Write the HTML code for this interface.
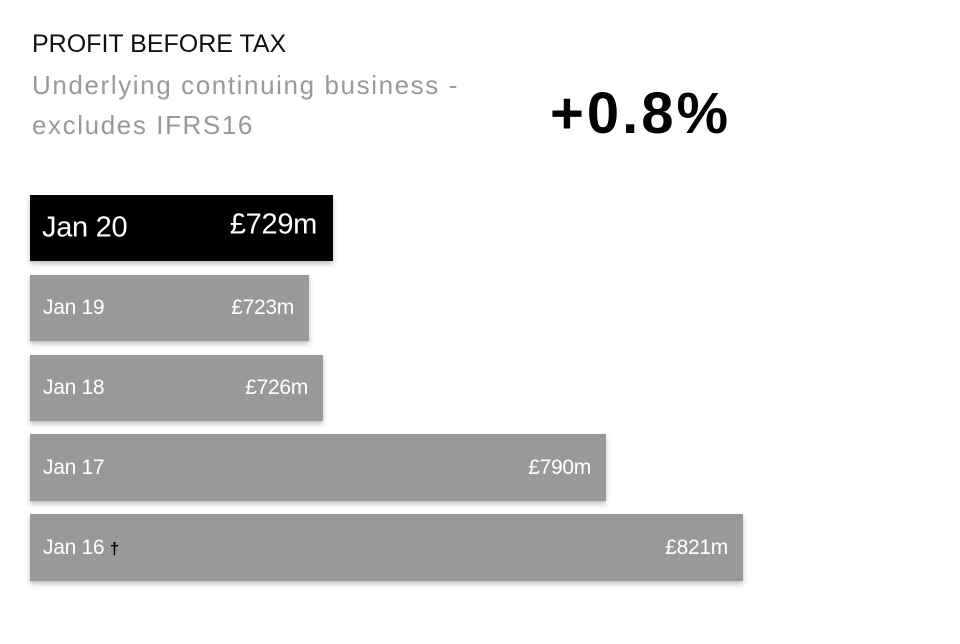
<!DOCTYPE html>
<html><head><meta charset="utf-8"><style>
body{margin:0;width:960px;height:644px;background:#fff;font-family:"Liberation Sans",sans-serif;position:relative;overflow:hidden}
.t{position:absolute;white-space:nowrap}
.bar{position:absolute;left:30px;background:#999;box-shadow:0 3px 5px rgba(0,0,0,0.25);color:#fff}
.bar span{position:absolute;top:50%;transform:translateY(-50%);font-size:21px;letter-spacing:-0.3px}
</style></head><body>
<div class="t" style="left:32px;top:30px;font-size:25px;color:#111;letter-spacing:0px">PROFIT BEFORE TAX</div>
<div class="t" style="left:32px;top:70px;font-size:26px;color:#999;letter-spacing:1.6px">Underlying continuing business -</div>
<div class="t" style="left:32px;top:110px;font-size:26px;color:#999;letter-spacing:1.6px">excludes IFRS16</div>
<div class="t" style="left:550px;top:80px;font-size:58px;font-weight:bold;color:#000;letter-spacing:3px">+0.8%</div>
<div class="bar" style="top:195px;width:303px;height:66px;background:#000"><span style="left:12px;font-size:29px">Jan 20</span><span style="right:16px;font-size:29px;margin-top:-3px">£729m</span></div>
<div class="bar" style="top:275px;width:279px;height:66px"><span style="left:13px">Jan 19</span><span style="right:15px">£723m</span></div>
<div class="bar" style="top:355px;width:293px;height:66px"><span style="left:13px">Jan 18</span><span style="right:15px">£726m</span></div>
<div class="bar" style="top:434px;width:576px;height:67px"><span style="left:13px">Jan 17</span><span style="right:15px">£790m</span></div>
<div class="bar" style="top:514px;width:713px;height:67px"><span style="left:13px">Jan 16 <b style="color:#000;font-size:17px">†</b></span><span style="right:15px">£821m</span></div>
</body></html>
